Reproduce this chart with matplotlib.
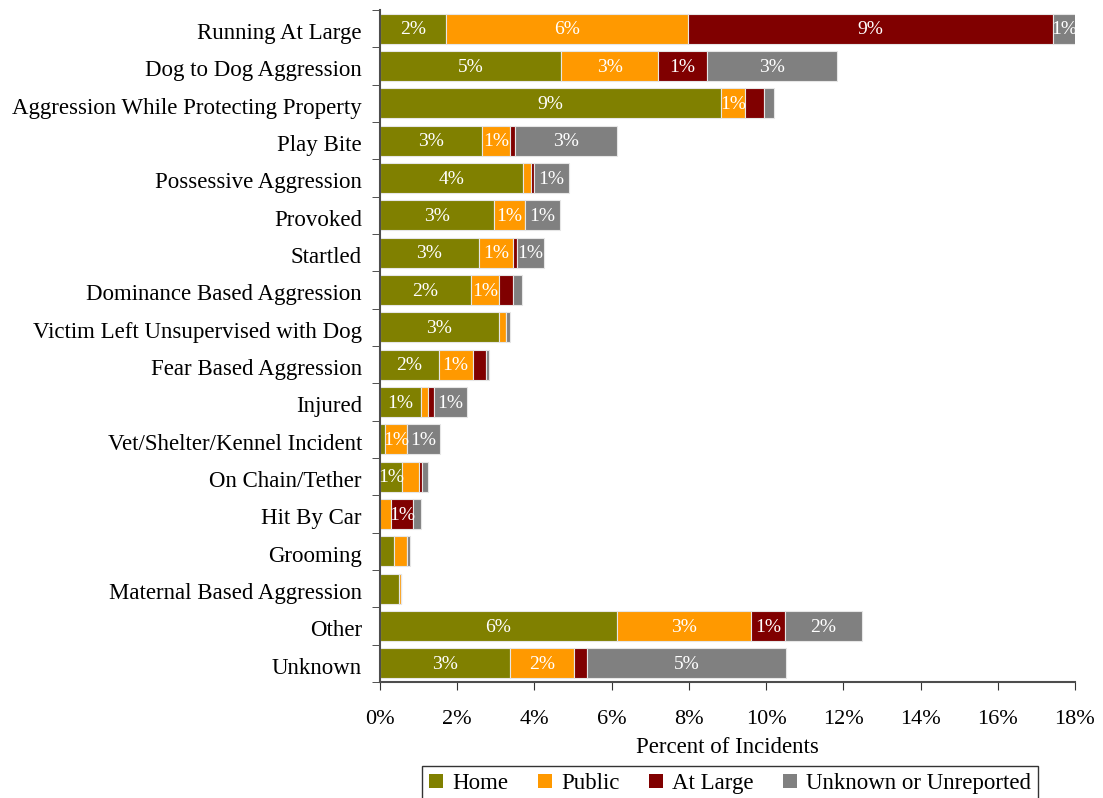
import numpy as np
import matplotlib.pyplot as plt
from matplotlib.ticker import FixedLocator

plt.rcParams['font.family'] = ['Liberation Serif', 'DejaVu Serif']

# Incident circumstances, top to bottom
categories = [
    'Running At Large', 'Dog to Dog Aggression', 'Aggression While Protecting Property',
    'Play Bite', 'Possessive Aggression', 'Provoked', 'Startled',
    'Dominance Based Aggression', 'Victim Left Unsupervised with Dog',
    'Fear Based Aggression', 'Injured', 'Vet/Shelter/Kennel Incident',
    'On Chain/Tether', 'Hit By Car', 'Grooming', 'Maternal Based Aggression',
    'Other', 'Unknown',
]

# percent of incidents by location
home = [1.71, 4.68, 8.83, 2.64, 3.70, 2.95, 2.56, 2.36, 3.07, 1.52, 1.05, 0.12,
        0.56, 0.0, 0.36, 0.48, 6.14, 3.37]
public = [6.28, 2.53, 0.63, 0.73, 0.20, 0.81, 0.88, 0.73, 0.19, 0.88, 0.19, 0.59,
          0.45, 0.28, 0.35, 0.07, 3.46, 1.65]
at_large = [9.43, 1.25, 0.49, 0.12, 0.10, 0.0, 0.11, 0.36, 0.0, 0.35, 0.16, 0.0,
            0.07, 0.58, 0.0, 0.0, 0.89, 0.35]
unknown = [0.61, 3.37, 0.26, 2.64, 0.89, 0.89, 0.69, 0.22, 0.10, 0.07, 0.85, 0.84,
           0.17, 0.19, 0.08, 0.0, 1.99, 5.15]

series = [
    ('Home', home, '#808000'),
    ('Public', public, '#FF9900'),
    ('At Large', at_large, '#800000'),
    ('Unknown or Unreported', unknown, '#808080'),
]

fig = plt.figure(figsize=(11.03, 7.98), dpi=100)
ax = fig.add_axes([0.3445, 0.1454, 0.6301, 0.8421])

y = np.arange(len(categories))
left = np.zeros(len(categories))
for name, vals, color in series:
    vals = np.array(vals)
    bars = ax.barh(y, vals, left=left, height=0.8, color=color, label=name,
                   edgecolor='#e6e6e6', linewidth=0.8)
    for rect, v in zip(bars, vals):
        if v >= 0.5:
            ax.text(rect.get_x() + rect.get_width() / 2,
                    rect.get_y() + rect.get_height() / 2 + 0.03,
                    f'{int(v + 0.5)}%', ha='center', va='center', color='white', fontsize=14)
    left += vals

ax.set_xlim(0, 18)
ax.set_ylim(len(categories) - 0.5, -0.5)
ax.set_xticks(np.arange(0, 19, 2))
ax.set_xticklabels([f'{t}%' for t in range(0, 19, 2)], fontsize=16)
ax.set_yticks(y + 0.06)
ax.set_yticklabels(categories, fontsize=16.5)
ax.tick_params(axis='y', which='major', length=0, pad=13)
ax.yaxis.set_minor_locator(FixedLocator(np.arange(-0.5, len(categories), 1)))
ax.tick_params(axis='y', which='minor', length=6, color='#333333')
ax.tick_params(axis='x', length=6, color='#333333', pad=14)
ax.set_xlabel('Percent of Incidents', fontsize=16.5, labelpad=6)

for side in ['top', 'right']:
    ax.spines[side].set_visible(False)
ax.spines['left'].set_color('#4d4d4d')
ax.spines['bottom'].set_color('#4d4d4d')
ax.spines['left'].set_linewidth(1.5)
ax.spines['bottom'].set_linewidth(1.5)

leg = fig.legend(loc='upper center', bbox_to_anchor=(0.662, 0.040), ncol=4, fontsize=16.5,
                 frameon=True, fancybox=False, edgecolor='black', handlelength=0.6,
                 handleheight=0.6, handletextpad=0.4, columnspacing=1.3,
                 borderpad=0.3, borderaxespad=0)
leg.get_frame().set_linewidth(1.0)
for h in leg.legend_handles:
    h.set_edgecolor('none')

fig.savefig('out.png', dpi=100)
